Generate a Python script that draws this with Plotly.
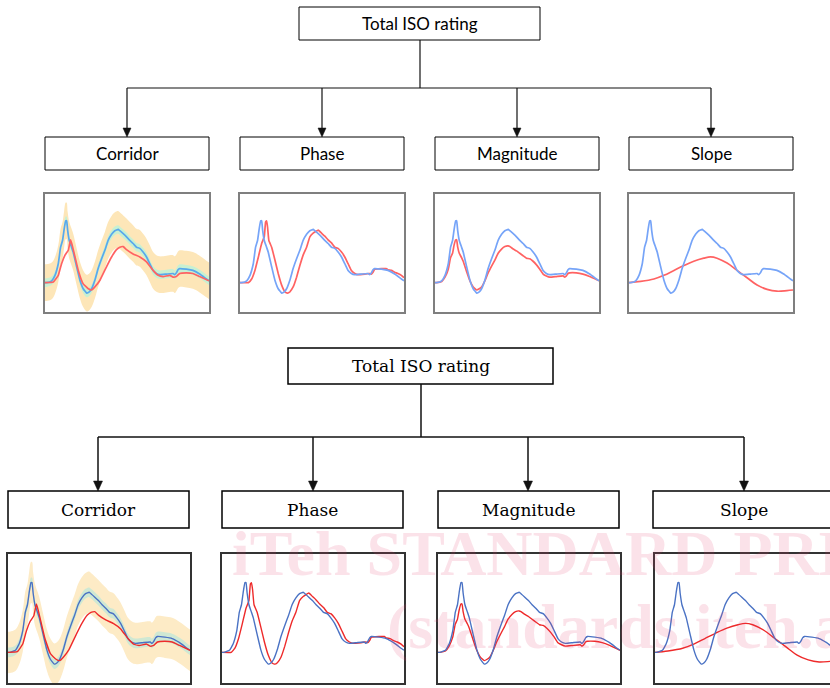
import plotly.graph_objects as go

W, H = 830, 688

# ---------------- data ----------------
# reference (blue) signal, time in % of window, amplitude normalised to first peak
t_ref = [0, 1.0, 4.1, 6.1, 8.1, 9.5, 10.7, 11.6, 12.6, 13.2, 13.8, 14.8, 16.2, 17.2, 19.3,
         21.3, 23.3, 25.4, 27.0, 28.4, 30.4, 32.4, 34.5, 36.5, 38.5, 40.6, 42.6, 44.6, 45.6,
         47.7, 49.7, 51.7, 53.7, 55.8, 57.8, 59.8, 61.9, 63.9, 65.9, 67.9, 70.0, 74.0, 78.1,
         79.1, 80.1, 81.1, 82.1, 86.2, 90.2, 94.3, 98.4, 100]
ref = [-0.01, -0.01, 0.02, 0.11, 0.30, 0.57, 0.68, 0.85, 1.00, 1.00, 0.85, 0.68, 0.57, 0.49, 0.25,
       0.03, -0.11, -0.18, -0.16, -0.11, 0.03, 0.22, 0.38, 0.52, 0.68, 0.78, 0.84, 0.86, 0.84,
       0.79, 0.74, 0.68, 0.63, 0.57, 0.55, 0.49, 0.41, 0.30, 0.19, 0.14, 0.12, 0.13, 0.14,
       0.12, 0.15, 0.20, 0.22, 0.21, 0.19, 0.13, 0.05, 0.02]

# corridor example (red)
t_cor = [0, 5.1, 8.1, 10.1, 12.2, 14.2, 15.6, 16.6, 18.3, 20.3, 23.3, 26.4, 28.4, 30.4, 33.5,
         37.5, 40.6, 43.6, 45.6, 47.7, 49.7, 53.7, 57.8, 61.9, 65.9, 69.0, 72.0, 76.1, 78.1,
         80.1, 82.1, 86.2, 90.2, 94.3, 100]
cor = [-0.01, 0.00, 0.11, 0.30, 0.44, 0.52, 0.69, 0.60, 0.41, 0.19, -0.03, -0.11, -0.13, -0.08, 0.03,
       0.25, 0.41, 0.53, 0.57, 0.58, 0.53, 0.46, 0.41, 0.33, 0.19, 0.11, 0.09, 0.11, 0.08,
       0.09, 0.14, 0.15, 0.14, 0.09, 0.02]
corridor_outer = 0.30
corridor_inner = 0.07

# phase example (red)
t_pha = [0, 5.1, 7.1, 9.1, 11.2, 13.2, 14.8, 15.6, 16.2, 16.8, 17.6, 19.3, 21.3, 23.3, 25.4,
         27.4, 29.0, 30.4, 32.4, 34.5, 36.5, 38.5, 40.6, 42.6, 44.6, 47.7, 49.7, 51.7, 53.7,
         55.8, 57.8, 59.8, 61.9, 63.9, 65.9, 67.9, 70.0, 72.0, 76.1, 79.1, 80.1, 81.1, 82.1,
         86.2, 89.2, 90.2, 92.3, 94.3, 96.3, 98.4, 100]
pha = [-0.01, -0.01, 0.05, 0.19, 0.41, 0.63, 0.74, 0.98, 1.00, 0.90, 0.68, 0.57, 0.36, 0.14, -0.05,
       -0.16, -0.18, -0.16, -0.08, 0.08, 0.27, 0.44, 0.57, 0.74, 0.80, 0.85, 0.80, 0.75, 0.69,
       0.64, 0.57, 0.55, 0.49, 0.41, 0.30, 0.19, 0.14, 0.12, 0.13, 0.14, 0.13, 0.16, 0.21,
       0.22, 0.22, 0.20, 0.19, 0.16, 0.14, 0.11, 0.07]

# magnitude example (red), same time base as reference
mag = [-0.01, -0.01, 0.01, 0.08, 0.21, 0.40, 0.47, 0.60, 0.69, 0.69, 0.58, 0.47, 0.40, 0.34, 0.17,
       0.02, -0.08, -0.13, -0.11, -0.08, 0.02, 0.15, 0.26, 0.36, 0.47, 0.54, 0.58, 0.59, 0.58,
       0.54, 0.51, 0.47, 0.43, 0.39, 0.38, 0.34, 0.28, 0.21, 0.13, 0.10, 0.08, 0.09, 0.10,
       0.08, 0.10, 0.14, 0.15, 0.15, 0.13, 0.09, 0.04, 0.02]

# slope example (red)
t_slo = [0, 7.1, 15.2, 21.3, 27.4, 33.5, 39.5, 45.6, 49.7, 53.7, 59.8, 65.9, 72.0, 78.1, 84.2,
         90.2, 96.3, 100]
slo = [-0.01, 0.01, 0.05, 0.11, 0.19, 0.27, 0.34, 0.39, 0.41, 0.39, 0.31, 0.19, 0.07, -0.05, -0.12,
       -0.15, -0.14, -0.13]

labels = ["Corridor", "Phase", "Magnitude", "Slope"]
title_text = "Total ISO rating"

# ---------------- layout helpers ----------------
def X(px):
    return px / W

def Y(py):
    return 1 - py / H

shapes = []
annotations = []

def rect(x0, y0, x1, y1, w=1, color="#000"):
    shapes.append(dict(type="rect", xref="paper", yref="paper", x0=X(x0), x1=X(x1),
                       y0=Y(y1), y1=Y(y0), line=dict(color=color, width=w), fillcolor="rgba(0,0,0,0)"))

def line(x0, y0, x1, y1, w=1.2, color="#111"):
    shapes.append(dict(type="line", xref="paper", yref="paper", x0=X(x0), x1=X(x1),
                       y0=Y(y0), y1=Y(y1), line=dict(color=color, width=w)))

def arrow_head(cx, tip, h, hw, color="#111"):
    p = f"M {X(cx-hw)},{Y(tip-h)} L {X(cx+hw)},{Y(tip-h)} L {X(cx)},{Y(tip)} Z"
    shapes.append(dict(type="path", xref="paper", yref="paper", path=p,
                       fillcolor=color, line=dict(color=color, width=0.5)))

def text(cx, cy, s, font):
    annotations.append(dict(x=X(cx), y=Y(cy), xref="paper", yref="paper", text=s,
                            showarrow=False, xanchor="center", yanchor="middle", font=font))

# ---------------- tree diagrams ----------------
def tree(tb, vx, hy, arrows_x, boxes, by, font, bw, lw, ah, ahw):
    rect(tb[0], tb[1], tb[2], tb[3], w=bw)
    text((tb[0] + tb[2]) / 2, (tb[1] + tb[3]) / 2, title_text, font)
    line(vx, tb[3], vx, hy, w=lw)
    line(arrows_x[0], hy, arrows_x[-1], hy, w=lw)
    for cx in arrows_x:
        line(cx, hy, cx, by[0] - ah + 1, w=lw)
        arrow_head(cx, by[0], ah, ahw)
    for (x0, x1), lab in zip(boxes, labels):
        rect(x0, by[0], x1, by[1], w=bw)
        text((x0 + x1) / 2, (by[0] + by[1]) / 2, lab, font)

font_top = dict(family="Lato", size=17, color="#000")
font_bot = dict(family="DejaVu Serif", size=17, color="#000")

tree((299, 7, 540, 40), 420, 88, [127, 322, 517, 711],
     [(45, 209), (240, 404), (435, 599), (629, 793)], (137, 170), font_top, 1, 1.2, 9, 4)
tree((288, 348, 553, 384), 421, 437, [98, 313, 528, 744],
     [(8, 189), (222, 403), (438, 619), (653, 835)], (491, 528), font_bot, 1.5, 1.5, 10, 4.5)

# ---------------- small plots ----------------
fig = go.Figure()
layout_axes = {}

top_frames = [(45, 209), (240, 404), (435, 599), (629, 793)]
bot_frames = [(8, 190), (222, 404), (438, 620), (655, 837)]

styles = {
    "top": dict(y=(194, 312), yr=[-0.49, 1.44], blue="#76a4f8", cblue="#58a8ec", red="#ff6262",
                outer="#fde6b8", inner="#c8f0d2", lw=1.7, frame="#7f7f7f", fw=2),
    "bot": dict(y=(554, 683), yr=[-0.454, 1.415], blue="#4a72c4", cblue="#4a72c4", red="#ee2a2a",
                outer="#fdebc6", inner="#cfe8d3", lw=1.4, frame="#333333", fw=1.5),
}

idx = 0
for row, frames in (("top", top_frames), ("bot", bot_frames)):
    st = styles[row]
    for k, (x0, x1) in enumerate(frames):
        idx += 1
        xa = "x" if idx == 1 else f"x{idx}"
        ya = "y" if idx == 1 else f"y{idx}"
        xr_end = 100.0
        right = x1
        clipped = False
        if x1 > W:
            xr_end = 100.0 * (W - x0) / (x1 - x0)
            right = W
            clipped = True
        layout_axes["xaxis" if idx == 1 else f"xaxis{idx}"] = dict(
            domain=[X(x0), X(right)], range=[0, xr_end], showgrid=False, zeroline=False,
            showticklabels=False, ticks="", showline=True, linecolor=st["frame"],
            linewidth=st["fw"], mirror=True, anchor=ya, fixedrange=True)
        layout_axes["yaxis" if idx == 1 else f"yaxis{idx}"] = dict(
            domain=[Y(st["y"][1]), Y(st["y"][0])], range=st["yr"], showgrid=False, zeroline=False,
            showticklabels=False, ticks="", showline=True, linecolor=st["frame"],
            linewidth=st["fw"], mirror=not clipped, anchor=xa, fixedrange=True)

        kind = labels[k]
        blue_col = st["blue"]
        if kind == "Corridor":
            blue_col = st["cblue"]
            for half, col in ((corridor_outer, st["outer"]), (corridor_inner, st["inner"])):
                lo = [v - half for v in ref]
                hi = [v + half for v in ref]
                fig.add_trace(go.Scatter(x=t_ref, y=lo, xaxis=xa, yaxis=ya, mode="lines",
                                         line=dict(width=0, color=col), hoverinfo="skip",
                                         line_shape="spline"))
                fig.add_trace(go.Scatter(x=t_ref, y=hi, xaxis=xa, yaxis=ya, mode="lines",
                                         line=dict(width=0, color=col), fill="tonexty",
                                         fillcolor=col, hoverinfo="skip", line_shape="spline"))
            rx, ry = t_cor, cor
        elif kind == "Phase":
            rx, ry = t_pha, pha
        elif kind == "Magnitude":
            rx, ry = t_ref, mag
        else:
            rx, ry = t_slo, slo

        if kind == "Corridor":
            fig.add_trace(go.Scatter(x=t_ref, y=ref, xaxis=xa, yaxis=ya, mode="lines",
                                     line=dict(color=blue_col, width=st["lw"]), line_shape="spline",
                                     line_smoothing=0.3))
            fig.add_trace(go.Scatter(x=rx, y=ry, xaxis=xa, yaxis=ya, mode="lines",
                                     line=dict(color=st["red"], width=st["lw"]), line_shape="spline",
                                     line_smoothing=0.3))
        else:
            fig.add_trace(go.Scatter(x=rx, y=ry, xaxis=xa, yaxis=ya, mode="lines",
                                     line=dict(color=st["red"], width=st["lw"]), line_shape="spline",
                                     line_smoothing=0.3 if kind != "Slope" else 1.0))
            fig.add_trace(go.Scatter(x=t_ref, y=ref, xaxis=xa, yaxis=ya, mode="lines",
                                     line=dict(color=blue_col, width=st["lw"]), line_shape="spline",
                                     line_smoothing=0.3))

# ---------------- watermark ----------------
wm_font = dict(family="Liberation Serif", size=64, color="rgba(230,60,110,0.15)")
annotations.append(dict(x=X(230), y=Y(553), xref="paper", yref="paper",
                        text="<b>iTeh STANDARD PREVIEW</b>", showarrow=False,
                        xanchor="left", yanchor="middle", font=wm_font))
annotations.append(dict(x=X(385), y=Y(626), xref="paper", yref="paper",
                        text="<b>(standards.iteh.ai)</b>", showarrow=False,
                        xanchor="left", yanchor="middle", font=wm_font))

fig.update_layout(width=W, height=H, margin=dict(l=0, r=0, t=0, b=0),
                  paper_bgcolor="white", plot_bgcolor="white", showlegend=False,
                  shapes=shapes, annotations=annotations, **layout_axes)

fig.write_html("out.html", config={"displayModeBar": False},
               post_script="document.body.style.margin='0';document.body.style.overflow='hidden';")
